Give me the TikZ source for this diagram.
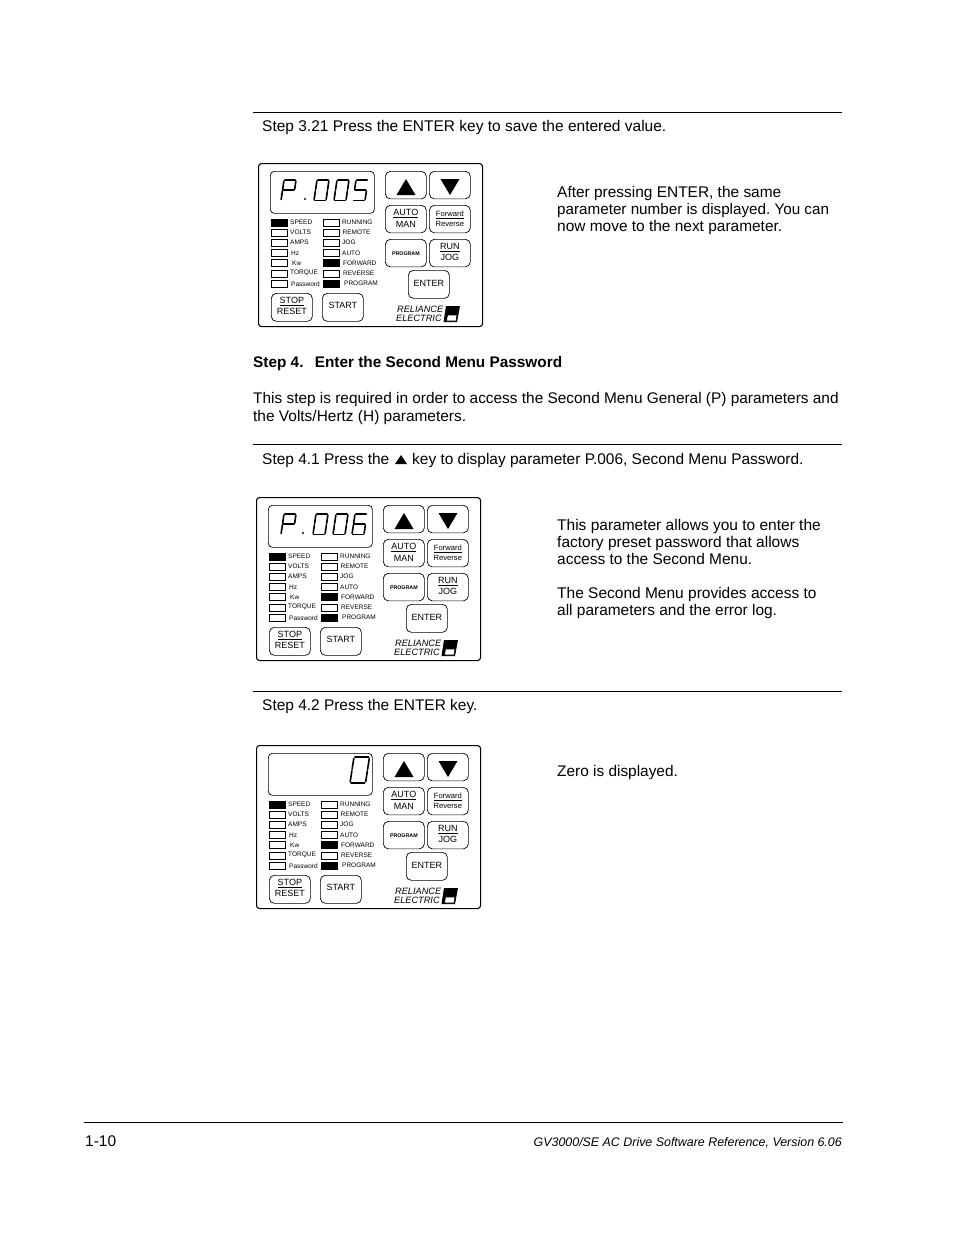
\documentclass[tikz,border=0pt]{standalone}
\usepackage{fontspec}
\setmainfont{Liberation Sans}
\newcommand{\fs}[1]{\fontsize{#1}{#1}\selectfont}
\newcommand{\fsk}[2]{\fontsize{#1}{#2}\selectfont}
\newcommand{\twol}[3]{\underline{#1}\\#2\rule[-#3pt]{0pt}{#3pt}}
\frenchspacing
\tikzset{x=1pt,y=-1pt,
 body/.style={anchor=base west,inner sep=0pt,font=\fs{15.45}},
 heading/.style={anchor=base west,inner sep=0pt,font=\fs{15.35}\bfseries},
 rule/.style={line width=0.8pt},
 panel/.style={draw,line width=1.1pt,rounded corners=3pt,anchor=north west,inner sep=0pt,minimum width=224pt,minimum height=163pt},
 disp/.style={draw,line width=0.7pt,rounded corners=4pt,anchor=north west,inner sep=0pt,minimum width=104pt,minimum height=42pt},
 key/.style={draw,line width=0.7pt,rounded corners=5pt,anchor=north west,inner sep=0pt,minimum width=41pt,minimum height=27.5pt,align=center,font=\fsk{9}{11.5}},
 keyone/.style={key,text height=6.5pt},
 led/.style={draw,line width=0.6pt,anchor=west,inner sep=0pt,minimum width=15.5pt,minimum height=7pt},
 ledon/.style={led,fill=black},
 ledtxt/.style={anchor=west,inner sep=0pt,font=\fs{6.5}},
 logotxt/.style={anchor=west,inner sep=0pt,font=\fs{9.2}\itshape},
 seg/.style={line width=1.6pt,line cap=round},
}
\newcommand{\setdig}[3]{\def\dw{#1}\def\dh{#2}\def\ds{#3}}
% seven-segment pieces: x0, u1, v1, u2, y0, v2
\newcommand{\dg}[6]{\draw[seg] ({#1+#2*\dw+(1-#3)*\ds},{#5+#3*\dh}) -- ({#1+#4*\dw+(1-#6)*\ds},{#5+#6*\dh});}
\newcommand{\segA}[2]{\dg{#1}{0.06}{0}{0.94}{#2}{0}}
\newcommand{\segB}[2]{\dg{#1}{1}{0.05}{1}{#2}{0.47}}
\newcommand{\segC}[2]{\dg{#1}{1}{0.53}{1}{#2}{0.95}}
\newcommand{\segD}[2]{\dg{#1}{0.06}{1}{0.94}{#2}{1}}
\newcommand{\segE}[2]{\dg{#1}{0}{0.53}{0}{#2}{0.95}}
\newcommand{\segF}[2]{\dg{#1}{0}{0.05}{0}{#2}{0.47}}
\newcommand{\segG}[2]{\dg{#1}{0.06}{0.5}{0.94}{#2}{0.5}}
\newcommand{\digP}[2]{\segA{#1}{#2}\segB{#1}{#2}\segE{#1}{#2}\segF{#1}{#2}\segG{#1}{#2}}
\newcommand{\digO}[2]{\segA{#1}{#2}\segB{#1}{#2}\segC{#1}{#2}\segD{#1}{#2}\segE{#1}{#2}\segF{#1}{#2}}
\newcommand{\digS}[2]{\segA{#1}{#2}\segC{#1}{#2}\segD{#1}{#2}\segE{#1}{#2}\segF{#1}{#2}\segG{#1}{#2}}
\newcommand{\digV}[2]{\segA{#1}{#2}\segC{#1}{#2}\segD{#1}{#2}\segF{#1}{#2}\segG{#1}{#2}}
% panel: name, x, y, display contents
\newcommand{\drive}[4]{%
\begin{scope}[shift={(#2,#3)}]
 \node[panel] (#1-panel) at (0,0) {};
 \node[disp] (#1-disp) at (12,8) {};
 #4
 \node[key] (#1-up) at (127,8) {};
 \node[key] (#1-down) at (171,8) {};
 \fill (138.5,32) -- (148,16) -- (157.5,32) -- cycle;
 \fill (182.5,16) -- (192,32) -- (201.5,16) -- cycle;
 \node[key] (#1-auto) at (127,42) {\twol{AUTO}{MAN}{1.5}};
 \node[key,font=\fsk{7.6}{10}] (#1-fwd) at (171,42) {\twol{Forward}{Reverse}{1}};
 \node[keyone,font=\fs{5.3}\bfseries,text height=4pt] (#1-prog) at (127,76) {PROGRAM};
 \node[key] (#1-run) at (171,76) {\twol{RUN}{JOG}{2}};
 \node[keyone,minimum height=28pt,text depth=2pt] (#1-enter) at (150,107) {ENTER};
 \node[key,minimum height=28pt] (#1-stop) at (13,130) {\twol{STOP}{RESET}{3}};
 \node[keyone,minimum height=28pt,text depth=4pt] (#1-start) at (64,130) {START};
 \node[ledon] (#1-l1) at (13,59.5) {}; \node[ledtxt] (#1-t1) at (32,59.5) {SPEED};
 \node[led] (#1-l2) at (13,69.7) {}; \node[ledtxt] (#1-t2) at (32,69.2) {VOLTS};
 \node[led] (#1-l3) at (13,79.7) {}; \node[ledtxt] (#1-t3) at (32,79.5) {AMPS};
 \node[led] (#1-l4) at (13,90) {}; \node[ledtxt] (#1-t4) at (33,90) {Hz};
 \node[led] (#1-l5) at (13,100) {}; \node[ledtxt] (#1-t5) at (34,100) {Kw};
 \node[led] (#1-l6) at (13,110.3) {}; \node[ledtxt] (#1-t6) at (32,110) {TORQUE};
 \node[led] (#1-l7) at (13,120.7) {}; \node[ledtxt] (#1-t7) at (33,120.7) {Password};
 \node[led] (#1-r1) at (65,59.3) {}; \node[ledtxt] (#1-u1) at (84,59.3) {RUNNING};
 \node[led] (#1-r2) at (65,69.7) {}; \node[ledtxt] (#1-u2) at (84.5,69.7) {REMOTE};
 \node[led] (#1-r3) at (65,79.5) {}; \node[ledtxt] (#1-u3) at (84,79) {JOG};
 \node[led] (#1-r4) at (65,90) {}; \node[ledtxt] (#1-u4) at (84,90) {AUTO};
 \node[ledon] (#1-r5) at (65,100) {}; \node[ledtxt] (#1-u5) at (85,100) {FORWARD};
 \node[led] (#1-r6) at (65,110.3) {}; \node[ledtxt] (#1-u6) at (85,110) {REVERSE};
 \node[ledon] (#1-r7) at (65,120.7) {}; \node[ledtxt] (#1-u7) at (86,120.7) {PROGRAM};
 \node[logotxt] (#1-rel) at (139,146.5) {RELIANCE};
 \node[logotxt] (#1-ele) at (138,155) {ELECTRIC};
 \fill (188,143) -- (202,143) -- (199,159) -- (185.5,159) -- cycle;
 \draw[line width=0.6pt,fill=white] (189.5,152) -- (199,152) -- (198,158) -- (188.5,158) -- cycle;
\end{scope}}
\begin{document}
\begin{tikzpicture}
\path[use as bounding box,fill=white] (0,0) rectangle (954,1235);
\coordinate (a1) at (253,112.5); \coordinate (a2) at (842,112.5);
\draw[rule] (a1) -- (a2);
\node[body,font=\fs{15.5}] (s321) at (262,131) {Step 3.21 Press the ENTER key to save the entered value.};
\drive{pa}{258}{163}{%
 \setdig{12}{20.5}{3}\digP{23}{17}\fill (47,36) circle (1.2pt);\digO{56}{17}\digO{76}{17}\digV{95}{17}}
\node[body] (ta1) at (557,197) {After pressing ENTER, the same};
\node[body,font=\fs{15.22}] (ta2) at (557,214) {parameter number is displayed. You can};
\node[body] (ta3) at (557,231) {now move to the next parameter.};
\node[heading] (h4) at (253,367) {Step 4.\hspace{7pt} Enter the Second Menu Password};
\node[body,font=\fs{15.4}] (p1) at (253,403) {This step is required in order to access the Second Menu General (P) parameters and};
\node[body] (p2) at (253,421) {the Volts/Hertz (H) parameters.};
\coordinate (b1) at (253,444.5); \coordinate (b2) at (842,444.5);
\draw[rule] (b1) -- (b2);
\node[body] (s41) at (262,464) {Step 4.1 Press the};
\fill (395,464) -- (401,455) -- (407,464) -- cycle;
\node[body] (s41b) at (412,464) {key to display parameter P.006, Second Menu Password.};
\drive{pb}{256}{497}{%
 \setdig{12}{20.5}{3}\digP{25}{17}\fill (47,36) circle (1.2pt);\digO{57}{17}\digO{77}{17}\digS{96}{17}}
\node[body,font=\fs{15.5}] (tb1) at (557,530) {This parameter allows you to enter the};
\node[body,font=\fs{15.5}] (tb2) at (557,547) {factory preset password that allows};
\node[body] (tb3) at (557,564) {access to the Second Menu.};
\node[body,font=\fs{15.5}] (tb4) at (557,598) {The Second Menu provides access to};
\node[body] (tb5) at (557,615) {all parameters and the error log.};
\coordinate (c1) at (253,691.5); \coordinate (c2) at (842,691.5);
\draw[rule] (c1) -- (c2);
\node[body] (s42) at (262,710) {Step 4.2 Press the ENTER key.};
\drive{pc}{256}{745}{\setdig{15.5}{26}{4}\digO{94}{12}}
\node[body,font=\fs{15.4}] (tc1) at (557,776) {Zero is displayed.};
\coordinate (d1) at (84,1122); \coordinate (d2) at (843,1122);
\draw[rule] (d1) -- (d2);
\node[body] (pg) at (85,1146) {1-10};
\node[anchor=base east,inner sep=0pt,font=\fs{12.42}\itshape] (ft) at (842,1146) {GV3000/SE AC Drive Software Reference, Version 6.06};
\end{tikzpicture}
\end{document}
